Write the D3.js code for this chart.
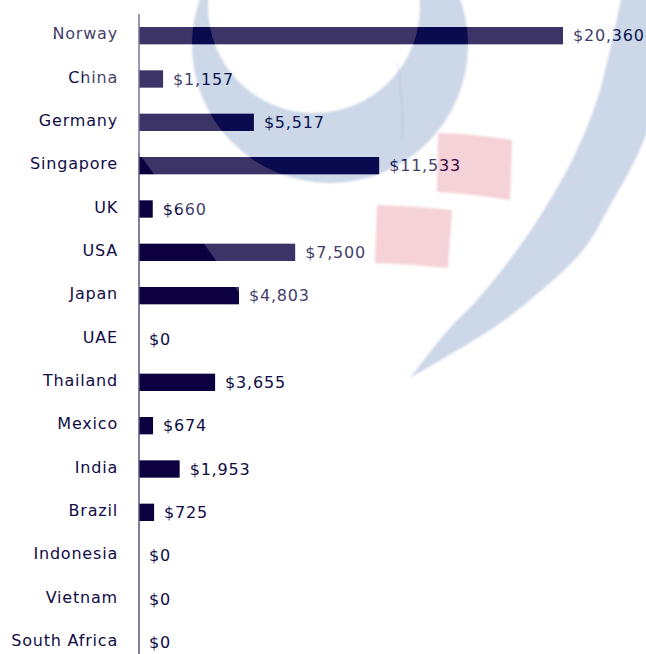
<!DOCTYPE html>
<html>
<head>
<meta charset="utf-8">
<title>Spending by country</title>
<script src="https://cdn.jsdelivr.net/npm/d3@7"></script>
<style>
body { margin: 0; background: #fff; }
svg { display: block; }
text { font-family: "DejaVu Sans", sans-serif; font-size: 16px; letter-spacing: 0.8px; }
</style>
</head>
<body>
<div id="chart"></div>
<script>
// data
const countries = ["Norway", "China", "Germany", "Singapore", "UK", "USA", "Japan", "UAE",
  "Thailand", "Mexico", "India", "Brazil", "Indonesia", "Vietnam", "South Africa"]
const values = [20360, 1157, 5517, 11533, 660, 7500, 4803, 0, 3655, 674, 1953, 725, 0, 0, 0]

const width = 646, height = 654
const axisX = 139

const rows = countries.map((c, i) => ({country: c, value: values[i]}))

const svg = d3.select("#chart").append("svg")
  .attr("width", width)
  .attr("height", height)

const x = d3.scaleLinear().domain([0, 20360]).range([axisX, 563])
const y = d3.scaleBand().domain(countries).range([14, 664])
  .paddingInner(0.6).paddingOuter(0.3)

const fmt = d3.format(",")
const ink = "#100c46"

// bars
svg.append("g").selectAll("rect")
  .data(rows)
  .enter().append("rect")
  .attr("x", axisX)
  .attr("y", d => y(d.country))
  .attr("width", d => x(d.value) - axisX)
  .attr("height", y.bandwidth())
  .attr("fill", "#0c0040")

// value labels
svg.append("g").selectAll("text")
  .data(rows)
  .enter().append("text")
  .attr("x", d => x(d.value) + 10)
  .attr("y", d => y(d.country) + y.bandwidth() / 2)
  .attr("dy", "0.35em")
  .attr("fill", ink)
  .text(d => "$" + fmt(d.value))

// category axis
const yAxis = d3.axisLeft(y).tickSize(0).tickPadding(21)
const ag = svg.append("g").attr("transform", `translate(${axisX},0)`).call(yAxis)
ag.select(".domain").remove()
ag.selectAll("text")
  .attr("fill", ink)
  .attr("dy", "0.22em")
  .style("font-size", "16px")
  .style("font-family", "'DejaVu Sans', sans-serif")
svg.append("line")
  .attr("x1", axisX).attr("x2", axisX)
  .attr("y1", 14).attr("y2", height)
  .attr("stroke", "#5a5282")
  .attr("stroke-width", 1.5)

// watermark laid over the chart
const ring = "M 468 45 A 138 138 0 1 1 192 45 A 138 138 0 1 1 468 45 Z " +
  "M 420 7 A 106 106 0 1 0 208 7 A 106 106 0 1 0 420 7 Z"

const smooth = d3.line().curve(d3.curveCatmullRom)
const swooshLeft = [[622, -5], [610, 50], [597, 100], [577, 150], [550, 200], [517, 250], [477, 300], [448, 330], [410, 378]]
const swooshRight = [[410, 378], [490, 330], [530, 300], [583, 250], [613, 200], [635, 160], [650, 125], [668, 80], [690, -5]]
const swoosh = smooth(swooshLeft) + "L" + smooth(swooshRight).slice(1) + "Z"

const pink1 = "M 438 133 Q 475 134 512 140 L 510 200 Q 474 194 437 192 Z"
const pink2 = "M 377 205 Q 414 206 452 210 L 448 268 Q 412 264 375 263 Z"

const defs = svg.append("defs")
defs.append("filter").attr("id", "soft")
  .append("feGaussianBlur").attr("stdDeviation", 0.8)

const mask = defs.append("mask").attr("id", "haze")
mask.append("rect").attr("width", width).attr("height", height).attr("fill", "#fff")
;[ring, swoosh, pink1, pink2].forEach(p => {
  mask.append("path").attr("d", p).attr("fill", "#000").attr("fill-rule", "evenodd")
})

// light haze: everything above-right of the diagonal
svg.append("path")
  .attr("d", "M 29 0 L 646 0 L 646 280 L 372 478 Z")
  .attr("fill", "#fff")
  .attr("fill-opacity", 0.2)
  .attr("mask", "url(#haze)")

const wm = svg.append("g").attr("filter", "url(#soft)")
wm.append("path").attr("d", ring).attr("fill-rule", "evenodd")
  .attr("fill", "rgb(0,60,140)").attr("fill-opacity", 0.2)
wm.append("path").attr("d", swoosh)
  .attr("fill", "rgb(0,60,140)").attr("fill-opacity", 0.2)
wm.append("path").attr("d", "M 397 63 Q 404 100 402 140")
  .attr("fill", "none").attr("stroke", "rgb(0,60,140)").attr("stroke-opacity", 0.12)
wm.append("path").attr("d", pink1).attr("fill", "rgb(200,0,40)").attr("fill-opacity", 0.18)
wm.append("path").attr("d", pink2).attr("fill", "rgb(200,0,40)").attr("fill-opacity", 0.18)
</script>
</body>
</html>
